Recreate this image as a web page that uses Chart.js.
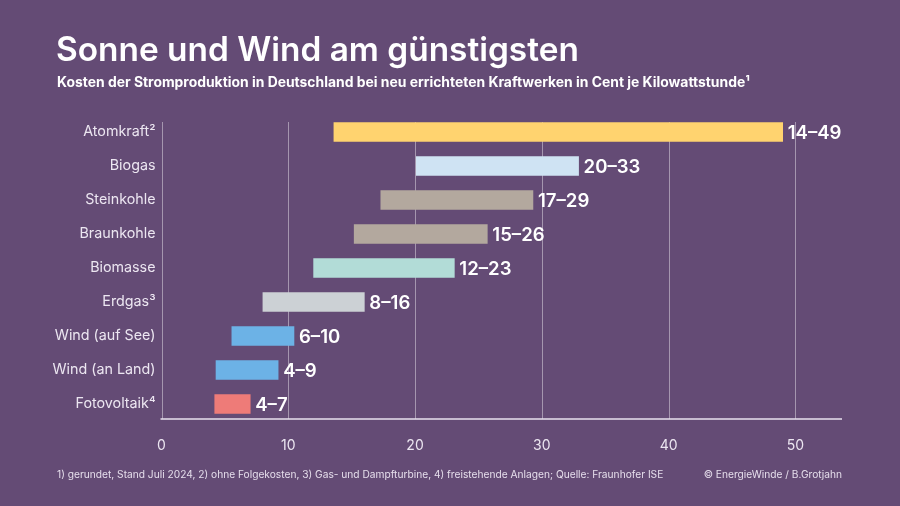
<!DOCTYPE html>
<html lang="de">

<head>
    <meta charset="UTF-8">
    <title>Sonne und Wind am günstigsten</title>
    <script src="https://cdn.jsdelivr.net/npm/chart.js"></script>
    <style>
        html, body {
            margin: 0;
            padding: 0;
            width: 900px;
            height: 506px;
            overflow: hidden;
            background: #644b75;
            font-family: Inter, sans-serif;
            color: #fff;
        }

        #usageChart {
            position: absolute;
            left: 0;
            top: 0;
        }

        .text {
            position: absolute;
            white-space: nowrap;
        }

        #title {
            left: 56px;
            top: 29px;
            font-size: 33.4px;
            font-weight: 600;
            line-height: 40px;
        }

        #subtitle {
            left: 57px;
            top: 73px;
            font-size: 13.9px;
            font-weight: 700;
            line-height: 18px;
        }

        #notes {
            left: 57px;
            top: 467px;
            font-size: 10.2px;
            line-height: 14px;
            color: #e6deec;
        }

        #credit {
            right: 58px;
            top: 467px;
            font-size: 10.2px;
            line-height: 14px;
            color: #e6deec;
        }
    </style>
</head>

<body>
    <canvas id="usageChart" width="900" height="506"></canvas>
    <div class="text" id="title">Sonne und Wind am günstigsten</div>
    <div class="text" id="subtitle">Kosten der Stromproduktion in Deutschland bei neu errichteten Kraftwerken in Cent je Kilowattstunde¹</div>
    <div class="text" id="notes">1) gerundet, Stand Juli 2024, 2) ohne Folgekosten, 3) Gas- und Dampfturbine, 4) freistehende Anlagen; Quelle: Fraunhofer ISE</div>
    <div class="text" id="credit">© EnergieWinde / B.Grotjahn</div>

    <script>
        const categories = ["Atomkraft²", "Biogas", "Steinkohle", "Braunkohle", "Biomasse", "Erdgas³", "Wind (auf See)", "Wind (an Land)", "Fotovoltaik⁴"];
        const lowValues = [13.6, 20.1, 17.3, 15.2, 12.0, 8.0, 5.55, 4.3, 4.2];
        const highValues = [49.0, 32.9, 29.3, 25.7, 23.1, 16.0, 10.45, 9.2, 7.0];
        const rangeLabels = ["14–49", "20–33", "17–29", "15–26", "12–23", "8–16", "6–10", "4–9", "4–7"];
        const barColors = ["#ffd36f", "#cfe3f3", "#b3a89e", "#b3a89e", "#b2dcd7", "#ccd1d5", "#6cb2e6", "#6cb2e6", "#ee7b78"];

        // Grid and axis line stop short of the category bands, so they are drawn here
        const gridPlugin = {
            id: "gridPlugin",
            beforeDatasetsDraw(chart) {
                const ctx = chart.ctx;
                const x = chart.scales.x;
                ctx.save();
                ctx.strokeStyle = "rgba(255, 255, 255, 0.42)";
                ctx.lineWidth = 1;
                x.ticks.forEach(tick => {
                    const px = Math.round(x.getPixelForValue(tick.value)) + 0.5;
                    ctx.beginPath();
                    ctx.moveTo(px, 122);
                    ctx.lineTo(px, 419);
                    ctx.stroke();
                });
                ctx.strokeStyle = "#e9e2ef";
                ctx.lineWidth = 1.5;
                ctx.beginPath();
                ctx.moveTo(x.left - 1, 419);
                ctx.lineTo(x.right, 419);
                ctx.stroke();
                ctx.restore();
            }
        };

        const rangeLabelPlugin = {
            id: "rangeLabelPlugin",
            afterDatasetsDraw(chart) {
                const ctx = chart.ctx;
                ctx.save();
                ctx.fillStyle = "#ffffff";
                ctx.font = "600 18.6px Inter, sans-serif";
                ctx.textBaseline = "middle";
                chart.getDatasetMeta(0).data.forEach((bar, i) => {
                    ctx.fillText(rangeLabels[i], bar.x + 5, bar.y + 1);
                });
                ctx.restore();
            }
        };

        new Chart(document.getElementById("usageChart"), {
            type: "bar",
            data: {
                labels: categories,
                datasets: [{
                    data: categories.map((c, i) => [lowValues[i], highValues[i]]),
                    backgroundColor: barColors,
                    barThickness: 19,
                    borderSkipped: false
                }]
            },
            options: {
                indexAxis: "y",
                responsive: false,
                animation: false,
                layout: { padding: { top: 115, right: 58 } },
                plugins: {
                    legend: { display: false },
                    tooltip: { enabled: false }
                },
                scales: {
                    x: {
                        min: 0,
                        max: 53.68,
                        grid: { display: false, drawTicks: false },
                        border: { display: false },
                        afterFit(scale) { scale.height = 85; },
                        ticks: {
                            stepSize: 10,
                            includeBounds: false,
                            maxRotation: 0,
                            padding: 16,
                            color: "#ece6f1",
                            font: { family: "Inter, sans-serif", size: 14 }
                        }
                    },
                    y: {
                        grid: { display: false, drawTicks: false },
                        border: { display: false },
                        afterFit(scale) { scale.width = 161.5; },
                        ticks: {
                            autoSkip: false,
                            padding: 6,
                            color: "#ece6f1",
                            font: { family: "Inter, sans-serif", size: 14.3 }
                        }
                    }
                }
            },
            plugins: [gridPlugin, rangeLabelPlugin]
        });
    </script>
</body>

</html>
